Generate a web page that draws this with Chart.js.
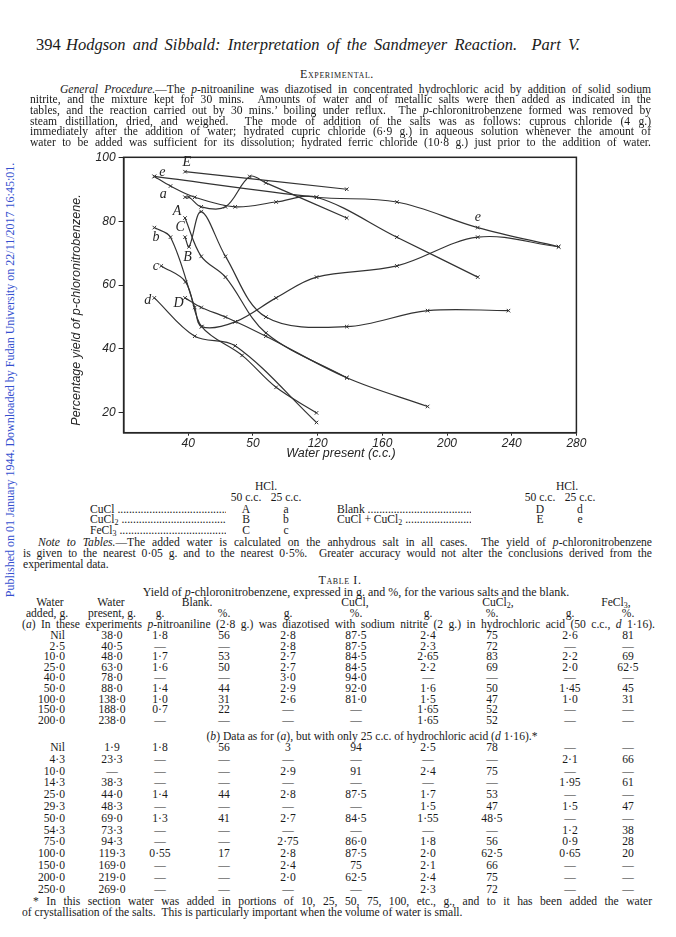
<!DOCTYPE html>
<html>
<head>
<meta charset="utf-8">
<script src="https://cdn.jsdelivr.net/npm/chart.js@4.4.1/dist/chart.umd.min.js"></script>
<style>
  body { margin: 0; background: #fff; }
  #page { position: relative; width: 676px; height: 937px; overflow: hidden; background: #fff;
          color: #1a1a1a; font-family: "Liberation Serif", "DejaVu Serif", serif; font-size: 11.6px; }
  .ln { position: absolute; height: 14px; line-height: 14px; white-space: nowrap; }
  .sc { font-variant: small-caps; letter-spacing: 0.6px; font-size: 12px; }
  .cell { position: absolute; width: 60px; text-align: center; height: 14px; line-height: 14px; white-space: nowrap; }
  sub { font-size: 8px; vertical-align: -2px; line-height: 0; }
  #chartBox { position: absolute; left: 40px; top: 140px; width: 560px; height: 340px; }
  #side { position: absolute; left: 10px; top: 380px; transform: translate(-50%, -50%) rotate(-90deg);
          color: #3550cf; font-size: 12px; white-space: nowrap; }
</style>
</head>
<body>
<div id="page">
  <div id="side">Published on 01 January 1944. Downloaded by Fudan University on 22/11/2017 16:45:01.</div>
  <div id="chartBox"><canvas id="grafica" width="560" height="340"></canvas></div>
</div>
<script>
// ---- chart data (water present, c.c. / percentage yield) ----
// 50 c.c. HCl
const cuclX50 = [38, 40.5, 48, 63, 78, 88, 138];
const cuclY50 = [87.5, 87.5, 84.5, 84.5, 94, 92, 81];
const cucl2X50 = [38, 40.5, 48, 63, 88, 138, 188, 238];
const cucl2Y50 = [75, 72, 83, 69, 50, 47, 52, 52];
const fecl3X50 = [38, 48, 63, 88, 138];
const fecl3Y50 = [81, 69, 62.5, 45, 31];
const blankX50 = [38, 48, 63, 88, 138, 188];
const blankY50 = [56, 53, 50, 44, 31, 22];
const mixX50 = [38, 138];
const mixY50 = [95.5, 90];
// 25 c.c. HCl
const cuclX25 = [19, 29, 44, 69, 94.3, 119.3, 169, 219];
const cuclY25 = [94, 91, 87.5, 84.5, 86, 87.5, 75, 62.5];
const cucl2X25 = [19, 29, 44, 48.3, 69, 94.3, 119.3, 169, 219, 269];
const cucl2Y25 = [78, 75, 53, 47, 48.5, 56, 62.5, 66, 75, 72];
const fecl3X25 = [23.3, 38.3, 48.3, 73.3, 94.3, 119.3];
const fecl3Y25 = [66, 61, 47, 38, 28, 20];
const blankX25 = [19, 44, 69, 119.3];
const blankY25 = [56, 44, 41, 17];
const mixX25 = [19, 119.3, 169, 219, 269];
const mixY25 = [94, 87.5, 86, 78, 72];

const xTickValues = [40, 80, 120, 160, 200, 240, 280];
const xTickLabels = ["40", "50", "120", "160", "200", "240", "280"];
const yTickValues = [20, 40, 60, 80, 100];

// letters written beside the curves (data coordinates)
const curveLabels = [
  { t: "E", x: 39, y: 98.3 },
  { t: "e", x: 24, y: 95.4 },
  { t: "a", x: 24.5, y: 88.4 },
  { t: "A", x: 33, y: 83 },
  { t: "C", x: 35, y: 78 },
  { t: "b", x: 20, y: 75 },
  { t: "B", x: 39.5, y: 68.8 },
  { t: "c", x: 20, y: 66 },
  { t: "d", x: 15, y: 55.3 },
  { t: "D", x: 34, y: 54.4 },
  { t: "e", x: 219, y: 81.2 },
];

const series = [
  ["A", cuclX50, cuclY50], ["B", cucl2X50, cucl2Y50], ["C", fecl3X50, fecl3Y50],
  ["D", blankX50, blankY50], ["E", mixX50, mixY50],
  ["a", cuclX25, cuclY25], ["b", cucl2X25, cucl2Y25], ["c", fecl3X25, fecl3Y25],
  ["d", blankX25, blankY25], ["e", mixX25, mixY25],
];

const ink = "#252525";

const extras = {
  id: "extras",
  afterDraw(chart) {
    const { ctx, chartArea: ca, scales: { x, y } } = chart;
    ctx.save();
    ctx.strokeStyle = ink;
    ctx.lineWidth = 1.5;
    ctx.strokeRect(ca.left, ca.top, ca.right - ca.left, ca.bottom - ca.top);
    ctx.fillStyle = ink;
    ctx.textAlign = "center";
    ctx.textBaseline = "middle";
    ctx.font = "italic 14px 'Liberation Serif'";
    curveLabels.forEach(l => ctx.fillText(l.t, x.getPixelForValue(l.x), y.getPixelForValue(l.y)));
    ctx.font = "italic 12.5px 'Liberation Sans'";
    ctx.fillText("Water present (c.c.)", (ca.left + ca.right) / 2 - 9, ca.bottom + 21);
    ctx.translate(ca.left - 47, (ca.top + ca.bottom) / 2 + 15);
    ctx.rotate(-Math.PI / 2);
    ctx.fillText("Percentage yield of p-chloronitrobenzene.", 0, 0);
    ctx.restore();
  }
};

new Chart(document.getElementById("grafica").getContext("2d"), {
  type: "line",
  data: {
    datasets: series.map(s => ({
      label: s[0],
      data: s[1].map((v, i) => ({ x: v, y: s[2][i] })),
      borderColor: "#333",
      borderWidth: 1.2,
      tension: 0.35,
      fill: false,
      pointStyle: "crossRot",
      pointRadius: 2.5,
      pointBorderWidth: 1,
      pointBorderColor: "#333",
    })),
  },
  options: {
    responsive: false,
    animation: false,
    devicePixelRatio: 1,
    layout: { padding: { left: 0, right: 23.6, top: 17.3, bottom: 0 } },
    plugins: { legend: { display: false }, tooltip: { enabled: false } },
    scales: {
      x: {
        type: "linear", min: 0, max: 280,
        afterBuildTicks: s => { s.ticks = xTickValues.map(v => ({ value: v })); },
        afterFit: s => { s.height = 47.3; },
        ticks: { autoSkip: false, maxRotation: 0, padding: 1, color: ink,
                 font: { family: "Liberation Sans", style: "italic", size: 12 },
                 callback: (v, i) => xTickLabels[i] },
        grid: { drawOnChartArea: false, tickLength: 3, color: ink },
        border: { color: ink, width: 1.5 },
      },
      y: {
        type: "linear", min: 13.8, max: 100,
        afterBuildTicks: s => { s.ticks = yTickValues.map(v => ({ value: v })); },
        afterFit: s => { s.width = 83.6; },
        ticks: { padding: 3, color: ink,
                 font: { family: "Liberation Sans", style: "italic", size: 12 } },
        grid: { drawOnChartArea: false, tickLength: 5, color: ink },
        border: { color: ink, width: 1.5 },
      },
    },
  },
  plugins: [extras],
});

// ---- page text ----
const page = document.getElementById("page");
// a line of text; with a width it is stretched to that width through word spacing
function line(left, y, html, opts = {}) {
  const d = document.createElement("div");
  d.className = "ln" + (opts.cls ? " " + opts.cls : "");
  d.style.left = left + "px";
  d.style.top = (y - 7) + "px";
  if (opts.size) d.style.fontSize = opts.size + "px";
  if (opts.center) d.style.transform = "translateX(-50%)";
  d.innerHTML = html;
  page.appendChild(d);
  if (opts.width) {
    const w = d.getBoundingClientRect().width;
    const gaps = (d.textContent.match(/[ \u00a0]/g) || []).length;
    if (gaps) d.style.wordSpacing = ((opts.width - w) / gaps) + "px";
  }
}
function cell(cx, y, text, right) {
  const d = document.createElement("div");
  d.className = "cell";
  d.style.left = (cx - 30) + "px";
  d.style.top = (y - 7) + "px";
  if (right) { d.style.left = (cx - 60) + "px"; d.style.textAlign = "right"; }
  d.innerHTML = text;
  page.appendChild(d);
}

line(36, 45, "394", { size: 16.5 });
line(66, 45, "<i>Hodgson and Sibbald: Interpretation of the Sandmeyer Reaction. &nbsp;Part V.</i>", { size: 16.5, width: 514 });
line(337, 74, "Experimental.", { cls: "sc", center: true });

const para = [
  [60, "<i>General Procedure.</i>—The <i>p</i>-nitroaniline was diazotised in concentrated hydrochloric acid by addition of solid sodium"],
  [30, "nitrite, and the mixture kept for 30 mins. &nbsp;Amounts of water and of metallic salts were then added as indicated in the"],
  [30, "tables, and the reaction carried out by 30 mins.’ boiling under reflux. &nbsp;The <i>p</i>-chloronitrobenzene formed was removed by"],
  [30, "steam distillation, dried, and weighed. &nbsp;The mode of addition of the salts was as follows: cuprous chloride (4 g.)"],
  [30, "immediately after the addition of water; hydrated cupric chloride (6·9 g.) in aqueous solution whenever the amount of"],
  [30, "water to be added was sufficient for its dissolution; hydrated ferric chloride (10·8 g.) just prior to the addition of water."],
];
para.forEach((p, i) => line(p[0], 89.5 + i * 10.7, p[1], { width: 651 - p[0] }));

// key to the curves
line(266, 487, "HCl.", { center: true });
line(567, 487, "HCl.", { center: true });
line(246, 498, "50 c.c.", { center: true });
line(286, 498, "25 c.c.", { center: true });
line(540, 498, "50 c.c.", { center: true });
line(580, 498, "25 c.c.", { center: true });
const dots = " ..................................................................";
const keyRows = [
  ["CuCl", "A", "a", "Blank", "D", "d"],
  ["CuCl<sub>2</sub>", "B", "b", "CuCl + CuCl<sub>2</sub>", "E", "e"],
  ["FeCl<sub>3</sub>", "C", "c", "", "", ""],
];
keyRows.forEach((r, i) => {
  const y = 509.5 + i * 10.6;
  const l = document.createElement("div");
  l.className = "ln"; l.style.left = "90px"; l.style.top = (y - 7) + "px";
  l.style.width = "136px"; l.style.overflow = "hidden"; l.innerHTML = r[0] + dots;
  page.appendChild(l);
  cell(246, y, r[1]); cell(286, y, r[2]);
  if (r[3]) {
    const m = document.createElement("div");
    m.className = "ln"; m.style.left = "337px"; m.style.top = (y - 7) + "px";
    m.style.width = "134px"; m.style.overflow = "hidden"; m.innerHTML = r[3] + dots;
    page.appendChild(m);
    cell(540, y, r[4]); cell(580, y, r[5]);
  }
});

line(38, 543, "<i>Note to Tables.</i>—The added water is calculated on the anhydrous salt in all cases. &nbsp;The yield of <i>p</i>-chloronitrobenzene", { width: 614 });
line(23, 554, "is given to the nearest 0·05 g. and to the nearest 0·5%. &nbsp;Greater accuracy would not alter the conclusions derived from the", { width: 629 });
line(23, 564.5, "experimental data.");
line(340, 580, "Table I.", { cls: "sc", center: true });
line(356, 591.5, "Yield of <i>p</i>-chloronitrobenzene, expressed in g. and %, for the various salts and the blank.", { center: true, size: 12 });

// table
const colX = [65, 112, 160, 224, 288, 356, 428, 492, 570, 628];
cell(50, 603, "Water"); cell(111, 603, "Water"); cell(197, 603, "Blank.");
cell(355, 603, "CuCl,"); cell(498, 603, "CuCl<sub>2</sub>,"); cell(616, 603, "FeCl<sub>3</sub>,");
cell(47, 614, "added, g."); cell(112, 614, "present, g.");
[2, 3, 4, 5, 6, 7, 8, 9].forEach(k => cell(colX[k], 614, k % 2 ? "%." : "g."));

line(22, 625, "(<i>a</i>) In these experiments <i>p</i>-nitroaniline (2·8 g.) was diazotised with sodium nitrite (2 g.) in hydrochloric acid (50 c.c., <i>d</i> 1·16).", { width: 633 });

const rowsA = [
  ["Nil", "38·0", "1·8", "56", "2·8", "87·5", "2·4", "75", "2·6", "81"],
  ["2·5", "40·5", "—", "—", "2·8", "87·5", "2·3", "72", "—", "—"],
  ["10·0", "48·0", "1·7", "53", "2·7", "84·5", "2·65", "83", "2·2", "69"],
  ["25·0", "63·0", "1·6", "50", "2·7", "84·5", "2·2", "69", "2·0", "62·5"],
  ["40·0", "78·0", "—", "—", "3·0", "94·0", "—", "—", "—", "—"],
  ["50·0", "88·0", "1·4", "44", "2·9", "92·0", "1·6", "50", "1·45", "45"],
  ["100·0", "138·0", "1·0", "31", "2·6", "81·0", "1·5", "47", "1·0", "31"],
  ["150·0", "188·0", "0·7", "22", "—", "—", "1·65", "52", "—", "—"],
  ["200·0", "238·0", "—", "—", "—", "—", "1·65", "52", "—", "—"],
];
const rowsB = [
  ["Nil", "1·9", "1·8", "56", "3", "94", "2·5", "78", "—", "—"],
  ["4·3", "23·3", "—", "—", "—", "—", "—", "—", "2·1", "66"],
  ["10·0", "—", "—", "—", "2·9", "91", "2·4", "75", "—", "—"],
  ["14·3", "38·3", "—", "—", "—", "—", "—", "—", "1·95", "61"],
  ["25·0", "44·0", "1·4", "44", "2·8", "87·5", "1·7", "53", "—", "—"],
  ["29·3", "48·3", "—", "—", "—", "—", "1·5", "47", "1·5", "47"],
  ["50·0", "69·0", "1·3", "41", "2·7", "84·5", "1·55", "48·5", "—", "—"],
  ["54·3", "73·3", "—", "—", "—", "—", "—", "—", "1·2", "38"],
  ["75·0", "94·3", "—", "—", "2·75", "86·0", "1·8", "56", "0·9", "28"],
  ["100·0", "119·3", "0·55", "17", "2·8", "87·5", "2·0", "62·5", "0·65", "20"],
  ["150·0", "169·0", "—", "—", "2·4", "75", "2·1", "66", "—", "—"],
  ["200·0", "219·0", "—", "—", "2·0", "62·5", "2·4", "75", "—", "—"],
  ["250·0", "269·0", "—", "—", "—", "—", "2·3", "72", "—", "—"],
];
rowsA.forEach((r, i) => r.forEach((t, k) => cell(colX[k], 636 + i * 10.6, t, k === 0)));
line(372, 737, "(<i>b</i>) Data as for (<i>a</i>), but with only 25 c.c. of hydrochloric acid (<i>d</i> 1·16).*", { center: true });
rowsB.forEach((r, i) => r.forEach((t, k) => cell(colX[k], 748 + i * 11.8, t, k === 0)));

line(33, 902, "* In this section water was added in portions of 10, 25, 50, 75, 100, etc., g., and to it has been added the water", { width: 619 });
line(22, 913, "of crystallisation of the salts. &nbsp;This is particularly important when the volume of water is small.");
</script>
</body>
</html>
